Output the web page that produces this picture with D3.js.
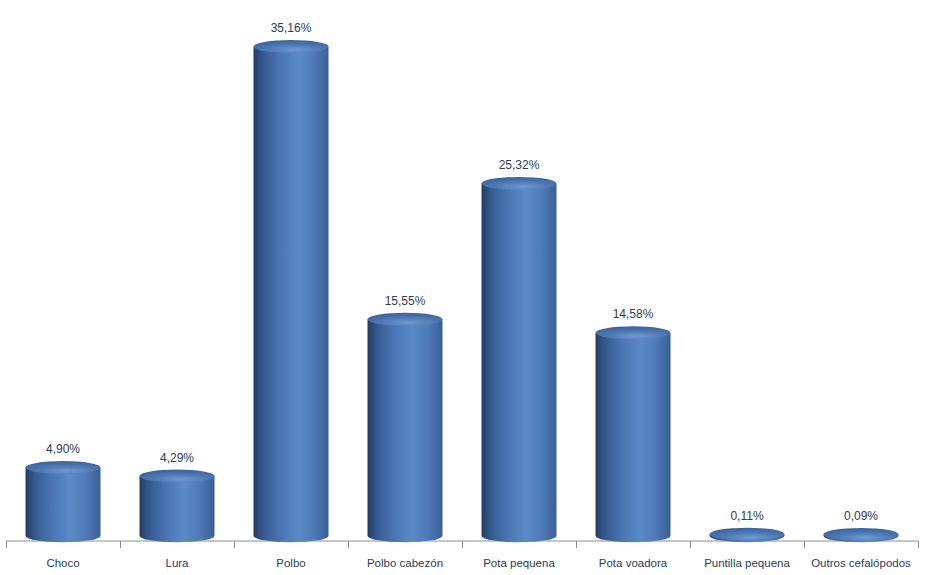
<!DOCTYPE html>
<html><head><meta charset="utf-8">
<script src="https://cdn.jsdelivr.net/npm/d3@7"></script>
<style>body{margin:0;background:#fff}svg{display:block}</style>
</head><body>
<svg id="c" width="931" height="575"></svg>
<script>
const categories = ["Choco","Lura","Polbo","Polbo cabezón","Pota pequena","Pota voadora","Puntilla pequena","Outros cefalópodos"];
const values = [4.90, 4.29, 35.16, 15.55, 25.32, 14.58, 0.11, 0.09];
const valueLabels = ["4,90%","4,29%","35,16%","15,55%","25,32%","14,58%","0,11%","0,09%"];

const svg = d3.select("#c");
const x = d3.scaleBand().domain(categories).range([6, 918]).paddingInner(0).paddingOuter(0);
const y = d3.scaleLinear().domain([0, 35.16]).range([535.7, 46.5]);
const cw = 75, ry = 6.5;

const defs = svg.append("defs");
const g1 = defs.append("linearGradient").attr("id","body").attr("x1","0").attr("x2","1").attr("y1","0").attr("y2","0");
[[0,"#233c62"],[0.12,"#34598e"],[0.35,"#4a75b2"],[0.6,"#5b8ac8"],[0.8,"#4f7bb8"],[1,"#3a5f96"]].forEach(([o,c])=>g1.append("stop").attr("offset",o).attr("stop-color",c));
const g2 = defs.append("radialGradient").attr("id","top").attr("cx","0.55").attr("cy","0.75").attr("r","0.7");
[[0,"#6f9ad4"],[0.5,"#4f7ab5"],[1,"#3d649c"]].forEach(([o,c])=>g2.append("stop").attr("offset",o).attr("stop-color",c));

// axis
const axisY = 541;
svg.append("line").attr("x1",6).attr("x2",918).attr("y1",axisY).attr("y2",axisY).attr("stroke","#8c8c8c").attr("stroke-width",1);
const ticks = categories.map(c=>x(c)).concat([x(categories[categories.length-1])+x.bandwidth()]);
svg.selectAll(".tk").data(ticks).join("line").attr("class","tk")
  .attr("x1",d=>Math.round(d)+0.5).attr("x2",d=>Math.round(d)+0.5).attr("y1",axisY).attr("y2",axisY+7)
  .attr("stroke","#8c8c8c");

const bars = svg.selectAll(".bar").data(categories.map((c,i)=>({c,v:values[i],l:valueLabels[i]}))).join("g").attr("class","bar");
bars.each(function(d){
  const g = d3.select(this);
  const cx = x(d.c) + x.bandwidth()/2;
  const yb = y(0), yt = y(d.v);
  const l = cx - cw/2, r = cx + cw/2;
  g.append("path").attr("d",`M${l},${yt} L${l},${yb} A${cw/2},${ry} 0 0 0 ${r},${yb} L${r},${yt} Z`).attr("fill","url(#body)");
  g.append("ellipse").attr("cx",cx).attr("cy",yt).attr("rx",cw/2).attr("ry",ry).attr("fill","url(#top)");
  g.append("text").attr("x",cx).attr("y",yt-ry-8).attr("text-anchor","middle")
    .attr("font-family","Liberation Sans, Arial, sans-serif").attr("font-size",12).attr("fill","#2e3b5c").text(d.l);
});

svg.selectAll(".cl").data(categories).join("text").attr("class","cl")
  .attr("x",d=>x(d)+x.bandwidth()/2).attr("y",567).attr("text-anchor","middle")
  .attr("font-family","Liberation Sans, Arial, sans-serif").attr("font-size",11.5).attr("fill","#2e3b5c").text(d=>d);
</script>
</body></html>
